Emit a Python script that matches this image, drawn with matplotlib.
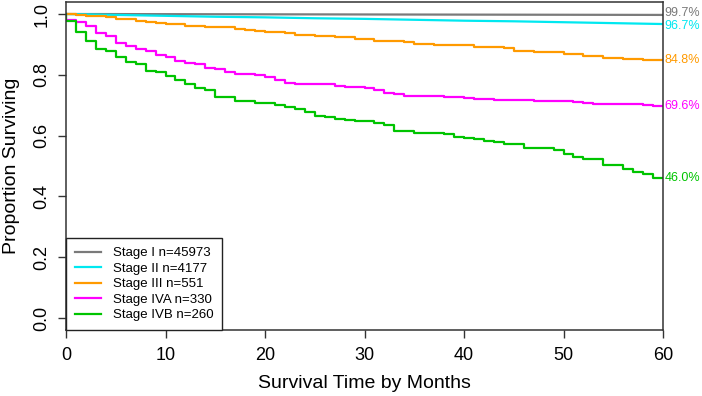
import matplotlib
matplotlib.use("Agg")
import matplotlib.pyplot as plt

plt.rcParams['font.family'] = ['Liberation Sans', 'DejaVu Sans']

months = list(range(0, 61))

stage_names = ["Stage I n=45973", "Stage II n=4177", "Stage III n=551",
               "Stage IVA n=330", "Stage IVB n=260"]
end_labels = ["99.7%", "96.7%", "84.8%", "69.6%", "46.0%"]
colors = ["#7a7a7a", "#00E8F0", "#FF9A00", "#FF00FF", "#00C400"]

# Stage I / II: nearly straight, read at sparse months
stage1_t = [0, 60]
stage1_s = [1.000, 0.997]
stage2_t = [0, 5, 10, 15, 20, 25, 30, 35, 40, 45, 50, 55, 60]
stage2_s = [1.000, 0.997, 0.994, 0.991, 0.989, 0.986, 0.984, 0.981, 0.978,
            0.976, 0.973, 0.970, 0.967]

stage3_s = [1.000, 0.997, 0.993, 0.993, 0.989, 0.983, 0.983, 0.977, 0.973, 0.969,
            0.967, 0.967, 0.962, 0.962, 0.956, 0.956, 0.956, 0.950, 0.947, 0.944,
            0.942, 0.942, 0.936, 0.931, 0.931, 0.928, 0.928, 0.923, 0.923, 0.919,
            0.919, 0.911, 0.911, 0.911, 0.907, 0.902, 0.902, 0.897, 0.897, 0.897,
            0.897, 0.890, 0.890, 0.890, 0.887, 0.879, 0.879, 0.874, 0.874, 0.874,
            0.869, 0.869, 0.862, 0.862, 0.856, 0.856, 0.853, 0.853, 0.850, 0.850,
            0.848]

stage4a_s = [0.981, 0.973, 0.961, 0.938, 0.929, 0.906, 0.896, 0.885, 0.879, 0.865,
             0.857, 0.847, 0.840, 0.834, 0.823, 0.818, 0.809, 0.804, 0.804, 0.799,
             0.794, 0.784, 0.774, 0.770, 0.770, 0.770, 0.770, 0.762, 0.759, 0.759,
             0.755, 0.749, 0.740, 0.737, 0.731, 0.731, 0.731, 0.731, 0.727, 0.727,
             0.723, 0.719, 0.719, 0.717, 0.717, 0.717, 0.717, 0.714, 0.714, 0.714,
             0.714, 0.709, 0.706, 0.703, 0.703, 0.703, 0.703, 0.703, 0.700, 0.696,
             0.696]

stage4b_s = [0.977, 0.940, 0.912, 0.885, 0.879, 0.857, 0.843, 0.836, 0.814, 0.808,
             0.797, 0.783, 0.769, 0.756, 0.750, 0.726, 0.726, 0.715, 0.715, 0.708,
             0.708, 0.702, 0.694, 0.689, 0.678, 0.664, 0.660, 0.655, 0.650, 0.648,
             0.648, 0.640, 0.635, 0.615, 0.615, 0.610, 0.610, 0.610, 0.605, 0.596,
             0.592, 0.588, 0.583, 0.579, 0.573, 0.573, 0.560, 0.560, 0.560, 0.553,
             0.539, 0.530, 0.522, 0.522, 0.502, 0.502, 0.491, 0.479, 0.473, 0.460,
             0.460]

fig = plt.figure(figsize=(7.02, 3.96), dpi=100)
ax = fig.add_axes([66/702, 1-330/396, (663-66)/702, (330-2)/396])

lw = 1.6
h1, = ax.plot(stage1_t, stage1_s, color=colors[0], lw=lw)
h2, = ax.plot(stage2_t, stage2_s, color=colors[1], lw=lw)
h3, = ax.step([0] + months, [1.0] + stage3_s, where='post', color=colors[2], lw=lw)
h4, = ax.step([0] + months, [1.0] + stage4a_s, where='post', color=colors[3], lw=lw)
h5, = ax.step([0] + months, [1.0] + stage4b_s, where='post', color=colors[4], lw=lw)

finals = [stage1_s[-1], stage2_s[-1], stage3_s[-1], stage4a_s[-1], stage4b_s[-1]]
offsets = [1.6, -1.2, 0, 0, 0]
for lab, c, v, off in zip(end_labels, colors, finals, offsets):
    ax.annotate(lab, xy=(60, v), xytext=(1.2, off), textcoords='offset points',
                color=c, fontsize=9.0, ha='left', va='center',
                annotation_clip=False)

ax.set_xlim(0, 60)
ax.set_ylim(-0.0395, 1.0395)
ax.set_xticks([0, 10, 20, 30, 40, 50, 60])
ax.set_yticks([0.0, 0.2, 0.4, 0.6, 0.8, 1.0])
ax.set_yticklabels(["0.0", "0.2", "0.4", "0.6", "0.8", "1.0"], rotation=90,
                   va='center')
ax.tick_params(axis='both', direction='out', length=6, width=1.0,
               color='#333333', labelsize=13, labelcolor='black')
ax.tick_params(axis='x', pad=6)
ax.tick_params(axis='y', pad=5)
for sp in ax.spines.values():
    sp.set_color('#333333')
    sp.set_linewidth(1.1)

fig.text(364.5/702, 1-384/396, "Survival Time by Months", fontsize=14,
         ha='center', va='center')
fig.text(12/702, 1-166/396, "Proportion Surviving", fontsize=14,
         ha='center', va='center', rotation=90)

leg = ax.legend([h1, h2, h3, h4, h5], stage_names, loc='lower left',
                bbox_to_anchor=(0, 0), borderaxespad=0, fontsize=9.5,
                frameon=True, fancybox=False, handlelength=2.0,
                handletextpad=0.9, labelspacing=0.25, borderpad=0.65)
leg.get_frame().set_edgecolor('#222222')
leg.get_frame().set_linewidth(1.0)
leg.get_frame().set_alpha(1)

fig.savefig("out.png", dpi=100)
